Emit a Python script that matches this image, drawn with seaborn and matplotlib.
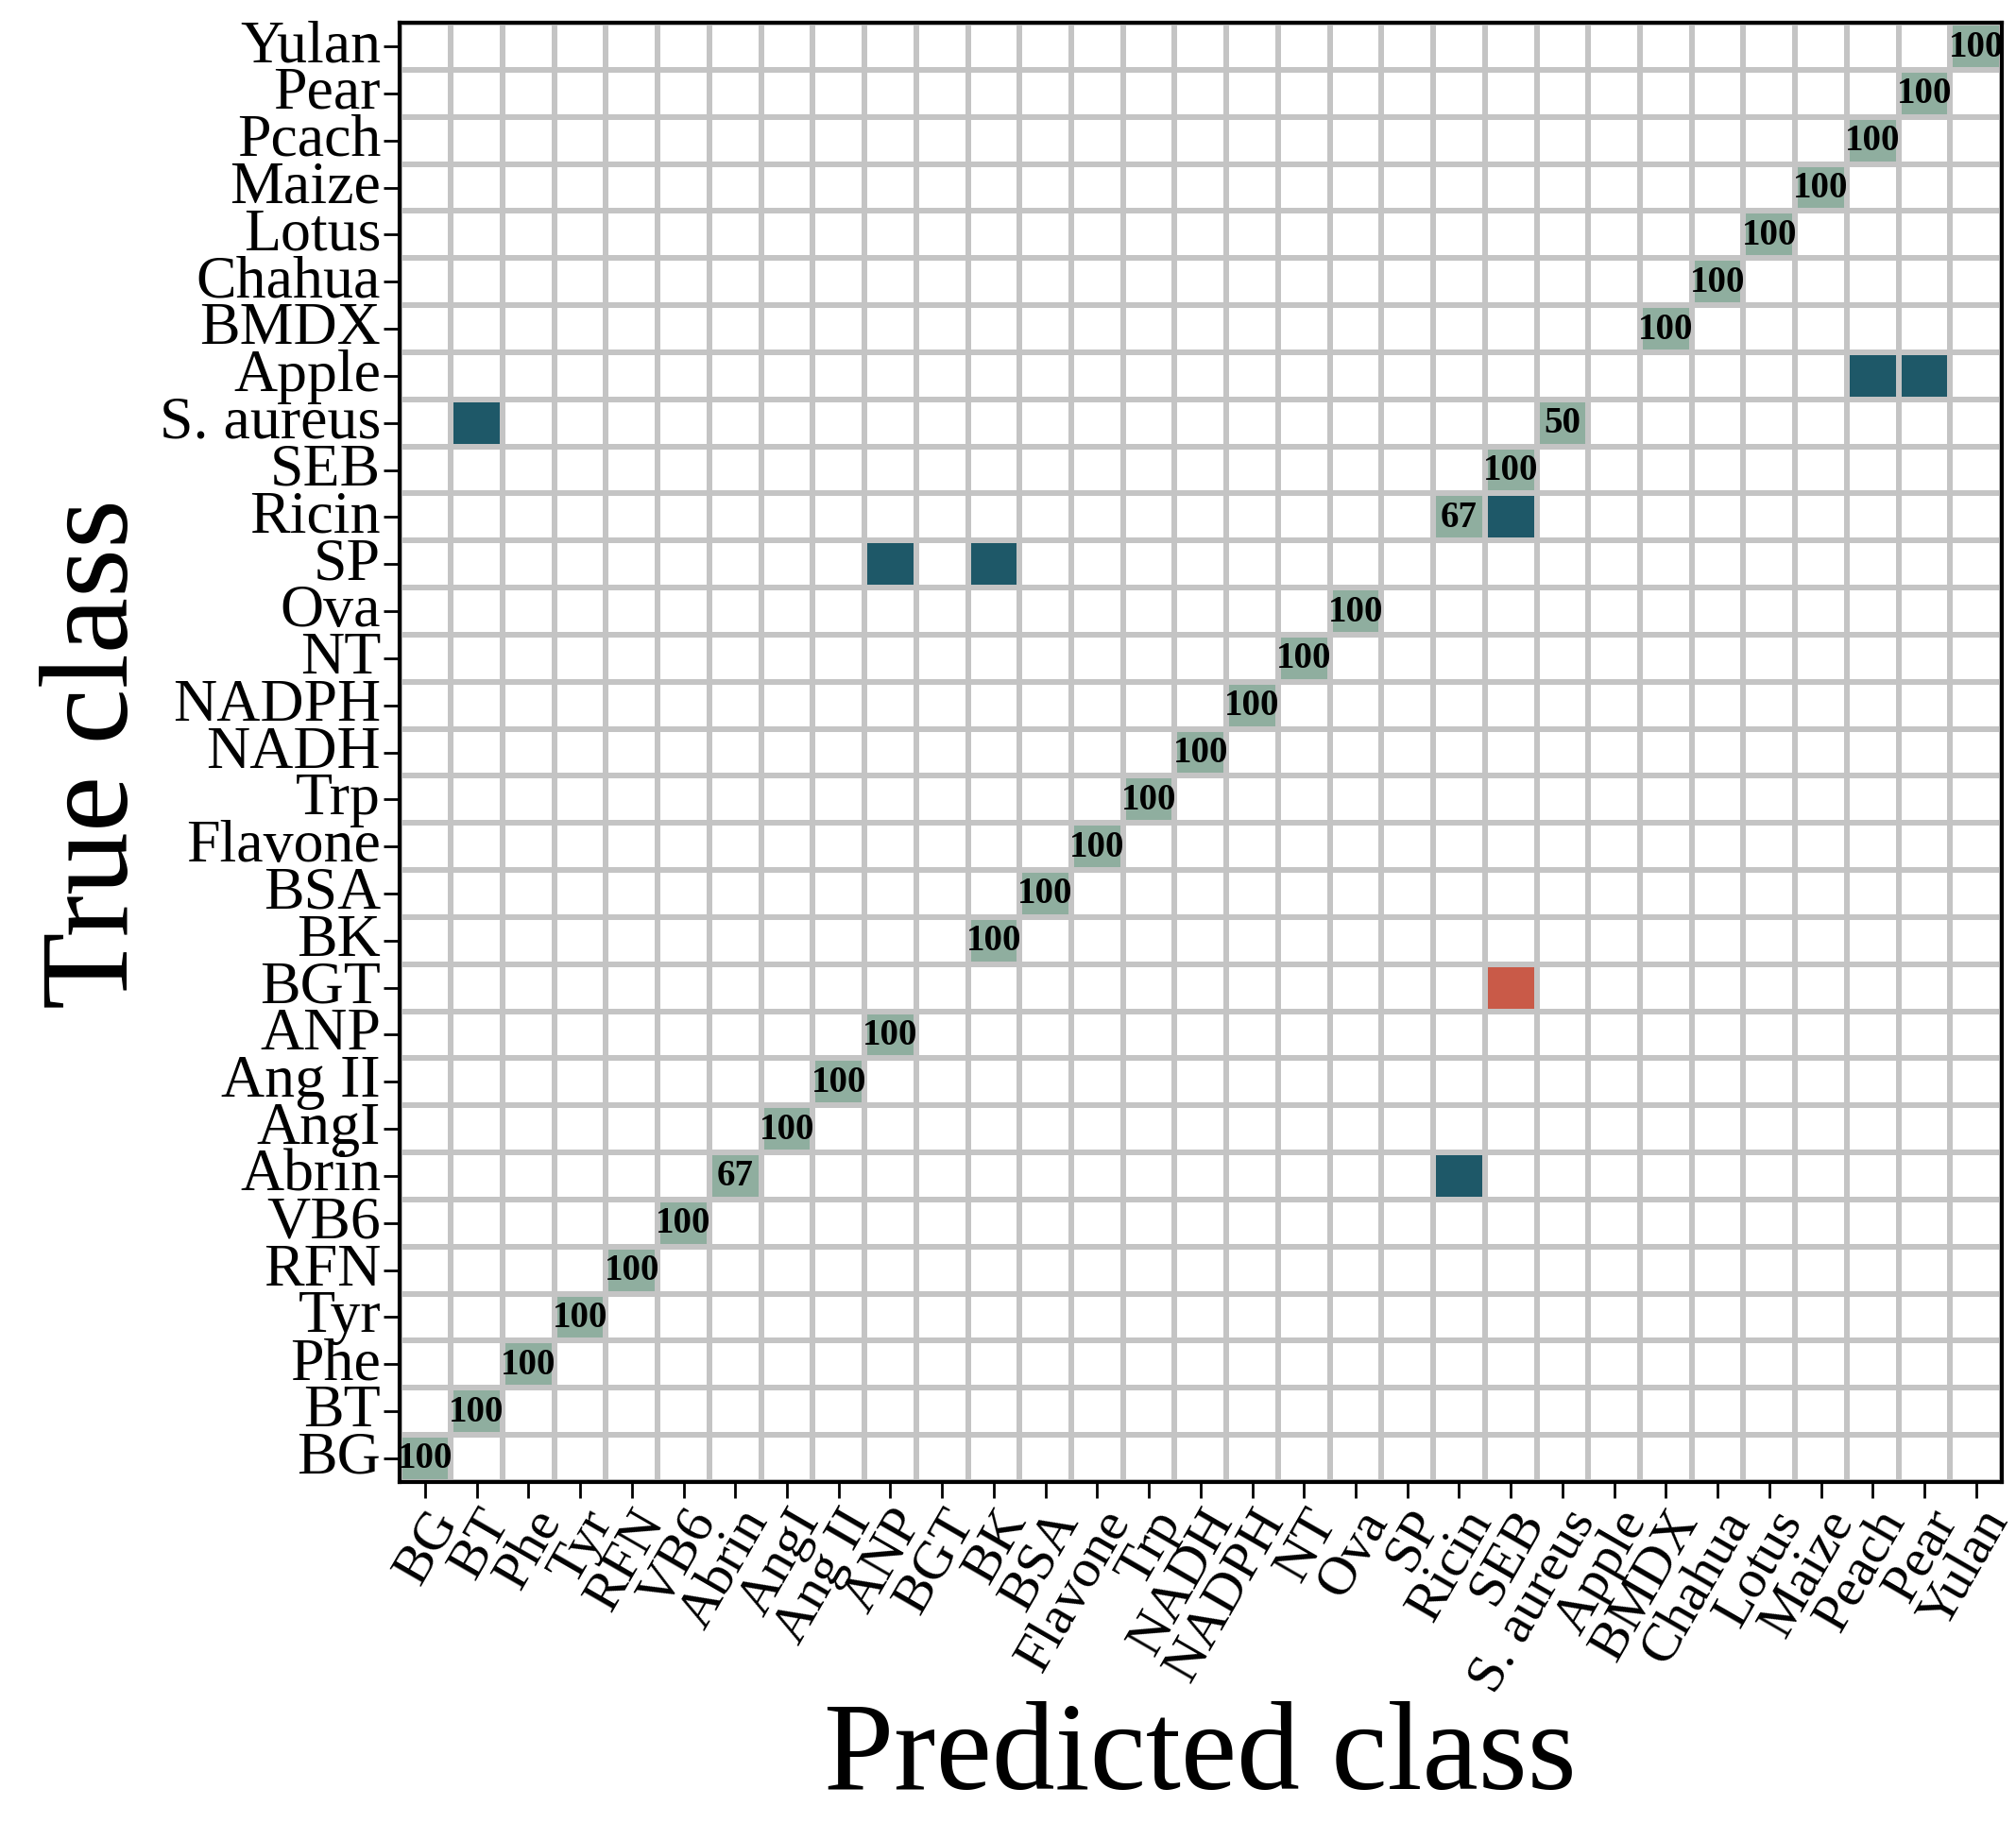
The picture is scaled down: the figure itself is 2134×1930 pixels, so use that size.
import numpy as np
import pandas as pd
import matplotlib
matplotlib.use("Agg")
import matplotlib.pyplot as plt
from matplotlib.colors import ListedColormap
import seaborn as sns

classes = ["BG", "BT", "Phe", "Tyr", "RFN", "VB6", "Abrin", "AngI", "Ang II", "ANP",
           "BGT", "BK", "BSA", "Flavone", "Trp", "NADH", "NADPH", "NT", "Ova", "SP",
           "Ricin", "SEB", "S. aureus", "Apple", "BMDX", "Chahua", "Lotus", "Maize",
           "Peach", "Pear", "Yulan"]
ytick_labels = [c if c != "Peach" else "Pcach" for c in classes]

diag_values = [100, 100, 100, 100, 100, 100, 67, 100, 100, 100,
               0, 100, 100, 100, 100, 100, 100, 100, 100, 0,
               67, 100, 50, 0, 100, 100, 100, 100, 100, 100, 100]
# (true, predicted, percent, kind) ; kind 2 = misclassified, 3 = misclassified (red)
off_diag = [("SP", "ANP", 50, 2), ("SP", "BK", 50, 2), ("Ricin", "SEB", 33, 2),
            ("S. aureus", "BT", 50, 2), ("Apple", "Peach", 50, 2), ("Apple", "Pear", 50, 2),
            ("Abrin", "Ricin", 33, 2), ("BGT", "SEB", 100, 3)]

n = len(classes)
vals = np.zeros((n, n))
kind = np.zeros((n, n))
for i, v in enumerate(diag_values):
    vals[i, i] = v
    if v > 0:
        kind[i, i] = 1
for t, p, v, k in off_diag:
    i, j = classes.index(t), classes.index(p)
    vals[i, j] = v
    kind[i, j] = k

annot = np.where(kind == 1, vals.astype(int).astype(str), "")
kind_df = pd.DataFrame(kind, index=classes, columns=classes).iloc[::-1]
annot = annot[::-1]

plt.rcParams['font.family'] = ['Liberation Serif', 'DejaVu Serif']
fig = plt.figure(figsize=(21.34, 19.31), dpi=100)
ax = fig.add_axes([0.198, 0.187, 0.795, 0.8])
cmap = ListedColormap(["#ffffff", "#8fae9f", "#1e5868", "#c95a48"])
sns.heatmap(kind_df, ax=ax, cmap=cmap, vmin=-0.5, vmax=3.5, cbar=False,
            annot=annot, fmt="", annot_kws={"fontsize": 28, "fontweight": "bold", "color": "black"},
            linewidths=3, linecolor="#c4c4c4", square=False)
ax.set_xticks(np.arange(n) + 0.5)
ax.set_xticklabels(classes, rotation=60, ha="right", rotation_mode="anchor", fontsize=42)
ax.set_yticks(np.arange(n) + 0.5)
ax.set_yticklabels(ytick_labels[::-1], rotation=0, fontsize=46)
ax.tick_params(axis="both", length=12, width=2, direction="out", pad=2)
for s in ax.spines.values():
    s.set_visible(True)
    s.set_linewidth(3)
    s.set_color("black")
ax.set_xlabel("Predicted class", fontsize=96, labelpad=0)
ax.set_ylabel("True class", fontsize=96, labelpad=4)
fig.savefig("out.png", dpi=100)
